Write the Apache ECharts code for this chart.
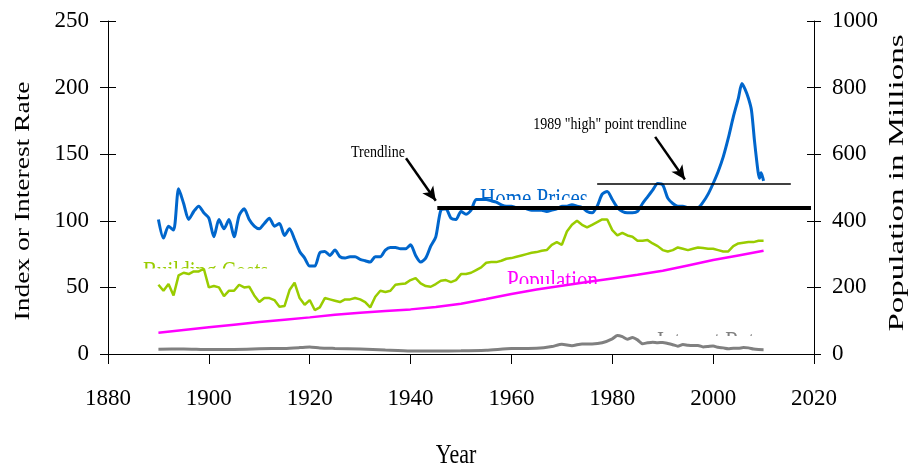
<!DOCTYPE html>
<html><head><meta charset="utf-8">
<script src="https://cdn.jsdelivr.net/npm/echarts@6/dist/echarts.min.js"></script>
<style>html,body{margin:0;padding:0;background:#fff;}#c{width:912px;height:471px;}</style>
</head><body><div id="c"></div>
<script>
// ---------- DATA ----------
const homeYears = [1890,1891,1892,1893,1894,1895,1896,1897,1898,1899,
  1900,1901,1902,1903,1904,1905,1906,1907,1908,1909,
  1910,1911,1912,1913,1914,1915,1916,1917,1918,1919,
  1920,1921,1922,1923,1924,1925,1926,1927,1928,1929,
  1930,1931,1932,1933,1934,1935,1936,1937,1938,1939,
  1940,1941,1942,1943,1944,1945,1946,1947,1948,1949,
  1950,1951,1952,1953,1954,1955,1956,1957,1958,1959,
  1960,1961,1962,1963,1964,1965,1966,1967,1968,1969,
  1970,1971,1972,1973,1974,1975,1976,1977,1978,1979,
  1980,1981,1982,1983,1984,1985,1986,1987,1988,1989,
  1990,1991,1992,1993,1994,1995,1996,1997,1998,1999,
  2000,2001,2002,2003,2004,2005,2005.7,2006.3,2007,2007.6,2008.2,2008.9,2009.2,2009.5,2009.8,2010];
const homePrices = [101,87,96,93,124,113,101,107,111,106,
  102,88,101,94,101,88,104,109,101,96,
  94,98,102,96,98,89,94,86,77,72,
  66,66,76,77,74,78,73,72,73,73,
  71,70,69,73,73,78,80,80,79,79,
  82,74,69,72,81,88,108,109,102,101,
  107,105,108,116,116,116,115,114,112,111,
  111,110,110,109,108,108,108,107,108,109,
  111,111,112,111,110,107,106,111,120,122,
  116,110,107,106,106,107,113,118,123,128,
  127,117,113,111,111,110,110,110,114,120,
  128,137,148,162,178,192,203,199,192,183,160,137,132,136,133,130];

const costYears = [1890,1891,1892,1893,1894,1895,1896,1897,1898,1899,
  1900,1901,1902,1903,1904,1905,1906,1907,1908,1909,
  1910,1911,1912,1913,1914,1915,1916,1917,1918,1919,
  1920,1921,1922,1923,1924,1925,1926,1927,1928,1929,
  1930,1931,1932,1933,1934,1935,1936,1937,1938,1939,
  1940,1941,1942,1943,1944,1945,1946,1947,1948,1949,
  1950,1951,1952,1953,1954,1955,1956,1957,1958,1959,
  1960,1961,1962,1963,1964,1965,1966,1967,1968,1969,
  1970,1971,1972,1973,1974,1975,1976,1977,1978,1979,
  1980,1981,1982,1983,1984,1985,1986,1987,1988,1989,
  1990,1991,1992,1993,1994,1995,1996,1997,1998,1999,
  2000,2001,2002,2003,2004,2005,2006,2007,2008,2009,2010];
const buildingCosts = [52,47.5,52.5,44,59,61,60,62,62,64,
  50,51,50,43.5,47.5,47.5,52,50,50.5,44,
  39,42,42,40.5,35.5,36,48,53.5,42,37,
  40.5,33,35,42,41,40,39,41,41,42,
  41,39,35,43,47.5,46.5,47.5,52,52.5,53,
  55.5,57,53,51,50.5,52.5,55,55.5,54,55.5,
  60,60,61,63,65,68.5,69,69,70,71.5,
  72,73,74,75,76,76.5,77.5,78,82,84,
  82,92,97,100,97,95,97,99,101,101,
  93,89,91,89,88,85,85,85.5,83,81,
  78,77,78,80,79,78,79,80,79.5,79,
  79,78,77,77,81,83,83.5,84,84,85,85];

const popYears = [1890,1895,1900,1905,1910,1915,1920,1925,1930,1935,1940,1945,1950,1955,1960,1965,1970,1975,1980,1985,1990,1995,2000,2005,2010];
const population = [64,72,80,88,96,103,110,118,124,129,134,141,151,165,180,194,205,216,227,238,250,266,282,296,310];

const rateYears = [1890,1895,1900,1905,1910,1915,1918,1920,1922,1925,1930,1935,1940,1945,1950,1955,1960,1965,1968,1970,1972,1974,1976,1978,1980,1981,1982,1983,1984,1985,1986,1987,1988,1989,1990,1991,1992,1993,1994,1995,1996,1997,1998,1999,2000,2001,2002,2003,2004,2005,2006,2007,2008,2009,2010];
const interestRates = [3.6,3.8,3.3,3.4,3.9,4.2,4.8,5.3,4.5,4.2,3.8,3.0,2.3,2.3,2.4,2.9,4.1,4.3,5.6,7.4,6.2,7.6,7.6,8.4,11.4,13.9,13.0,11.1,12.4,10.6,7.7,8.4,8.9,8.5,8.6,7.9,7.0,5.9,7.1,6.6,6.4,6.4,5.3,5.6,6.0,5.0,4.6,4.0,4.3,4.3,4.8,4.6,3.7,3.3,3.2];

const xTicks = [1880,1900,1920,1940,1960,1980,2000,2020];
const leftTicks = [0,50,100,150,200,250];
const rightTicks = [0,200,400,600,800,1000];

// trendlines / annotations (data coordinates)
const trendline = [[1945.3,110],[2019.4,110]];
const highTrendline = [[1977,127.6],[2015.4,127.6]];
const arrow1 = [[1939.1,147],[1945.0,115]];
const arrow2 = [[1988.5,163],[1994.4,131]];

// ---------- CHART ----------
const FONT = '"Liberation Serif","Times New Roman",serif';
const zip = (xs, ys) => xs.map((x, i) => [x, ys[i]]);
const plain = v => String(v);
const chart = echarts.init(document.getElementById('c'), null, {renderer:'canvas'});

const axisCommon = {
  axisLine:{show:true,lineStyle:{color:'#000',width:1}},
  axisTick:{show:true,length:8,lineStyle:{color:'#000',width:1}},
  splitLine:{show:false},
  axisLabel:{color:'#000',fontSize:23,fontFamily:FONT,formatter:plain}
};

const option = {
  animation:false,
  backgroundColor:'#fff',
  grid:{left:108,right:98,top:21,bottom:117},
  xAxis:{type:'value',min:xTicks[0],max:xTicks[xTicks.length-1],interval:20,z:5,
    axisLine:{lineStyle:{color:'#000',width:1}},
    axisTick:{length:10,lineStyle:{color:'#000'}},
    splitLine:{show:false},
    axisLabel:{color:'#000',fontSize:23,fontFamily:FONT,margin:33,formatter:plain}},
  yAxis:[
    Object.assign({}, axisCommon, {type:'value',position:'left',min:leftTicks[0],max:leftTicks[leftTicks.length-1],interval:50,
      axisLabel:Object.assign({}, axisCommon.axisLabel, {margin:19})}),
    Object.assign({}, axisCommon, {type:'value',position:'right',min:rightTicks[0],max:rightTicks[rightTicks.length-1],interval:200,
      axisTick:{show:true,length:7,lineStyle:{color:'#000'}},
      axisLabel:Object.assign({}, axisCommon.axisLabel, {margin:18})}),
    {type:'value',position:'left',min:0,max:250,interval:50,axisLine:{show:false},
      axisTick:{show:true,inside:true,length:8,lineStyle:{color:'#000'}},axisLabel:{show:false},splitLine:{show:false}},
    {type:'value',position:'right',min:0,max:1000,interval:200,axisLine:{show:false},
      axisTick:{show:true,inside:true,length:7,lineStyle:{color:'#000'}},axisLabel:{show:false},splitLine:{show:false}}
  ],
  series:[
    {name:'Interest Rates',type:'line',yAxisIndex:0,data:zip(rateYears,interestRates),showSymbol:false,
      lineStyle:{color:'#808080',width:3},smooth:0.2},
    {name:'Population',type:'line',yAxisIndex:1,data:zip(popYears,population),showSymbol:false,
      lineStyle:{color:'#FF00FF',width:2.5}},
    {name:'Building Costs',type:'line',yAxisIndex:0,data:zip(costYears,buildingCosts),showSymbol:false,
      lineStyle:{color:'#99CC00',width:2.5}},
    {name:'Home Prices',type:'line',yAxisIndex:0,data:zip(homeYears,homePrices),showSymbol:false,
      lineStyle:{color:'#0066CC',width:3},smooth:0.25},
    {name:'annotations',type:'line',yAxisIndex:0,data:[],silent:true,
      markLine:{silent:true,animation:false,label:{show:false},symbol:'none',
        emphasis:{disabled:true},
        data:[
          [{coord:trendline[0],lineStyle:{color:'#000',width:4,type:'solid'}},{coord:trendline[1]}],
          [{coord:highTrendline[0],lineStyle:{color:'#000',width:1.5,type:'solid'}},{coord:highTrendline[1]}],
          [{coord:arrow1[0],symbol:'none',lineStyle:{color:'#000',width:2.5,type:'solid'}},{coord:arrow1[1],symbol:'arrow',symbolSize:[10,14]}],
          [{coord:arrow2[0],symbol:'none',lineStyle:{color:'#000',width:2.5,type:'solid'}},{coord:arrow2[1],symbol:'arrow',symbolSize:[10,14]}]
        ]}}
  ]
};
chart.setOption(option);

// clipped series labels and titles
const SY = 1.25;
function txt(text, x, y, size, color, align){
  return {type:'text',x:x,y:y,scaleY:SY,z:0,silent:true,
    style:{text:text,fill:color,fontSize:size,fontFamily:FONT,textAlign:align||'left',textVerticalAlign:'middle'}};
}
function cover(x,y,w,h){ return {type:'rect',z:1,silent:true,shape:{x:x,y:y,width:w,height:h},style:{fill:'#fff'}}; }

chart.setOption({graphic:[
  txt('Home Prices',480,200,21,'#0066CC'),
  cover(476,200,118,12),
  txt('Building Costs',143,273.5,21,'#99CC00'),
  cover(140,268.5,134,20),
  txt('Population',507,282,21,'#FF00FF'),
  cover(503,284,106,12),
  txt('Interest Rates',657,343,21,'#808080'),
  cover(654,336,126,17),
  txt('Trendline',378,152,14,'#000','center'),
  txt('1989 "high" point trendline',610,124,14,'#000','center'),
  txt('Year',456,456,22,'#000','center'),
  {type:'text',x:23,y:201,rotation:Math.PI/2,scaleX:SY,silent:true,
    style:{text:'Index or Interest Rate',fill:'#000',fontSize:22,fontFamily:FONT,textAlign:'center',textVerticalAlign:'middle'}},
  {type:'text',x:897,y:183,rotation:Math.PI/2,scaleX:1.5,silent:true,
    style:{text:'Population in Millions',fill:'#000',fontSize:22,fontFamily:FONT,textAlign:'center',textVerticalAlign:'middle'}}
]});
</script>
</body></html>
